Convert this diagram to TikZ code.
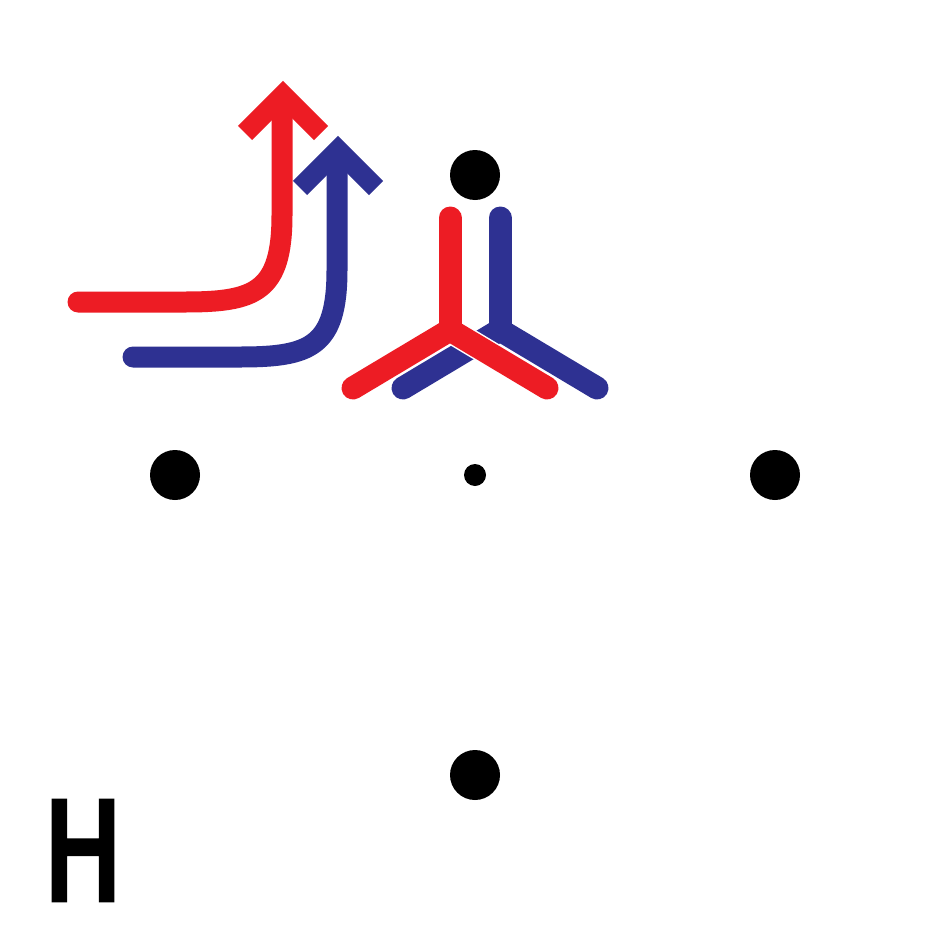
\documentclass[tikz,border=0pt]{standalone}
\usepackage{fontspec}
\newfontfamily\hfont[FakeBold=5]{DejaVu Sans}
\definecolor{myred}{HTML}{ED1C24}
\definecolor{myblue}{HTML}{2E3192}
\begin{document}
\begin{tikzpicture}[x=1pt,y=-1pt,
 flow/.style={line width=21pt, line cap=round, line join=round},
 head/.style={line width=20pt, line cap=butt, line join=miter},
 bond/.style={line width=23pt, line cap=round, line join=round},
 atom/.style={circle, fill=black, inner sep=0pt, minimum size=50pt},
 center/.style={circle, fill=black, inner sep=0pt, minimum size=22pt},
]
\useasboundingbox[fill=white] (0,0) rectangle (950,950);
% atoms
\node[atom] (top) at (475,175) {};
\node[atom] (left) at (175,475) {};
\node[atom] (right) at (775,475) {};
\node[atom] (bottom) at (475,775) {};
\node[center] (mid) at (475,475) {};
% red arrow
\draw[flow, myred] (78,302) -- (185,302) .. controls (255,302) and (282,292) .. (282,215) -- (282,100);
\draw[head, myred] (245,133) -- (283,95) -- (321,133);
% blue arrow
\draw[flow, myblue] (133,357) -- (240,357) .. controls (310,357) and (337,347) .. (337,270) -- (337,155);
\draw[head, myblue] (300,188) -- (338,150) -- (376,188);
% blue Y
\draw[bond, myblue] (500,218) -- (500,330);
\draw[bond, myblue] (403,388) -- (500,330) -- (597,388);
% red Y with thin white outline
\draw[line width=26pt, line cap=round, white] (353,388) -- (450,330) -- (547,388);
\draw[bond, myred] (450,218) -- (450,330);
\draw[bond, myred] (353,388) -- (450,330) -- (547,388);
% label
\node[anchor=base, inner sep=0pt, font={\hfont\fontsize{133}{133}\selectfont}, xscale=0.78] (H) at (83,899) {H};
\end{tikzpicture}
\end{document}
